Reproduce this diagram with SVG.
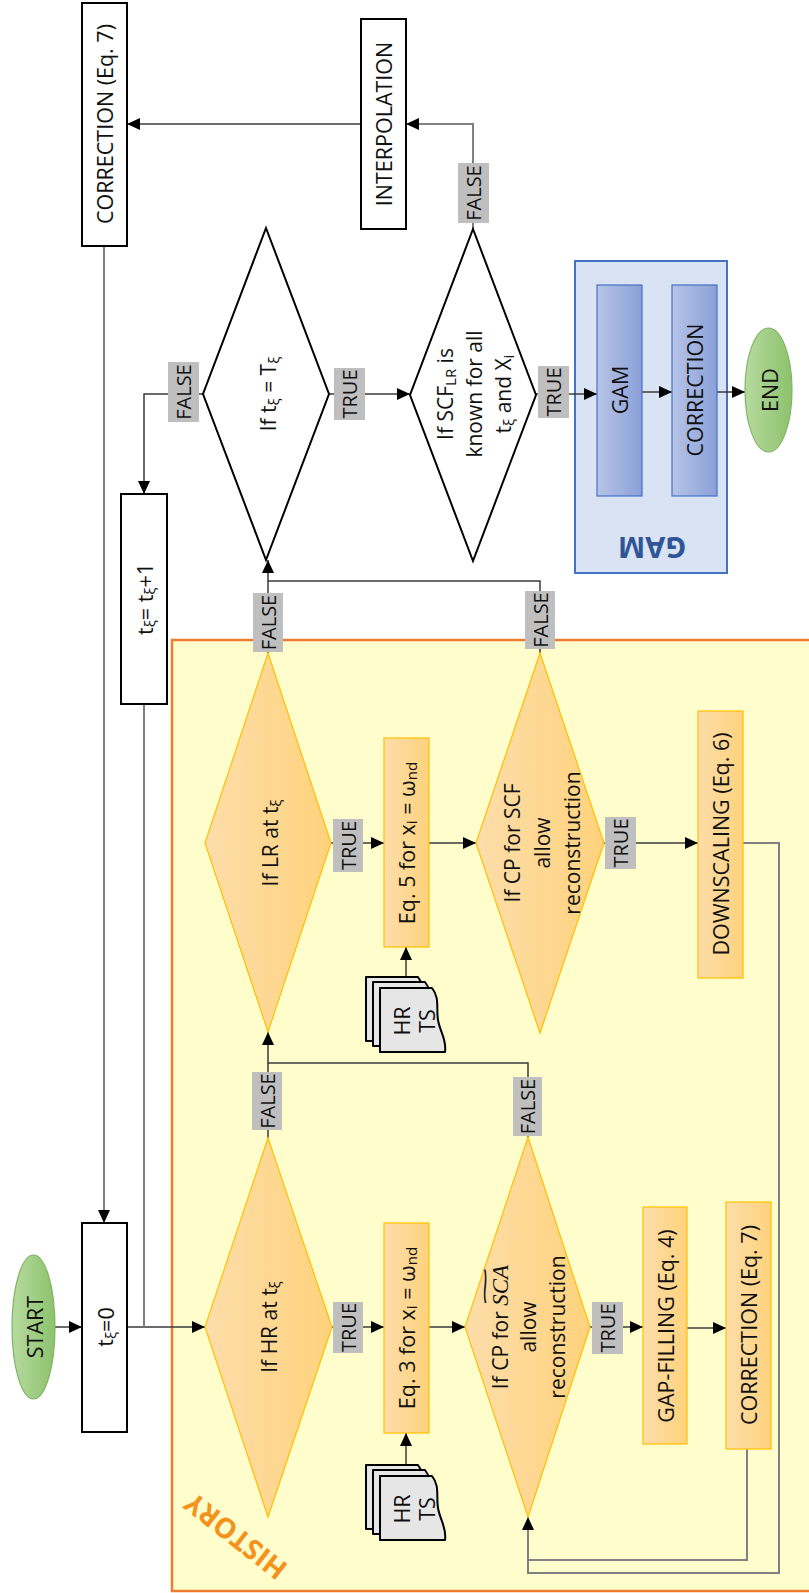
<svg xmlns="http://www.w3.org/2000/svg" width="809" height="1593" viewBox="0 0 809 1593">
  <defs>
    <linearGradient id="gOrange" x1="0" y1="0" x2="1" y2="0">
      <stop offset="0" stop-color="#FCDDAA"/>
      <stop offset="1" stop-color="#FFD27C"/>
    </linearGradient>
    <linearGradient id="gBlue" x1="0" y1="0" x2="1" y2="0">
      <stop offset="0" stop-color="#B7C4E7"/>
      <stop offset="1" stop-color="#8AA0D8"/>
    </linearGradient>
    <linearGradient id="gGreen" x1="0" y1="0" x2="1" y2="0">
      <stop offset="0" stop-color="#B6DA9F"/>
      <stop offset="1" stop-color="#8CC26C"/>
    </linearGradient>
    <marker id="ah" viewBox="0 0 13 12" refX="13" refY="6" markerWidth="13" markerHeight="12" orient="auto" markerUnits="userSpaceOnUse">
      <path d="M0,0 L13,6 L0,12 z" fill="#000"/>
    </marker>
    <!-- one sheet of the stacked-document symbol, wavy edge on the right -->
    <path id="doc" d="M0,0 H52 C60,10 56,20 58,32 C60,44 67,52 65,64 H0 Z"/>
  </defs>
  <style>
    .t { font-family: "Open Sans", "Liberation Sans", sans-serif; font-size: 21.5px; fill: #111; text-anchor: middle; dominant-baseline: central; }
    .td { font-family: "Open Sans", "Liberation Sans", sans-serif; font-size: 21px; fill: #111; text-anchor: middle; dominant-baseline: central; }
    .lt { font-family: "Open Sans", "Liberation Sans", sans-serif; font-size: 20px; fill: #111; text-anchor: middle; dominant-baseline: central; }
    .sub { font-size: 15px; }
    .box { fill: #fff; stroke: #000; stroke-width: 2; }
    .obox { fill: url(#gOrange); stroke: #FFC000; stroke-width: 1.2; }
    .bbox { fill: url(#gBlue); stroke: #4472C4; stroke-width: 1.2; }
    .dia { fill: #fff; stroke: #000; stroke-width: 2; }
    .odia { fill: url(#gOrange); stroke: #FFC000; stroke-width: 1.2; }
    .term { fill: url(#gGreen); stroke: #82B366; stroke-width: 1.2; }
    .lbl { fill: #BFBFBF; }
    .ln { fill: none; stroke: #3a3a3a; stroke-width: 1.5; }
    .lg { fill: none; stroke: #808080; stroke-width: 2; }
    .arr { marker-end: url(#ah); }
    .page { fill: #E6E6E6; stroke: #000; stroke-width: 2; stroke-linejoin: round; }
  </style>

  <!-- containers -->
  <g id="history">
    <rect x="172" y="640" width="660" height="951" fill="#FFFDCC" stroke="#ED7D31" stroke-width="2.5"/>
    <text transform="translate(235,1537) rotate(-142)" font-family="Open Sans, Liberation Sans, sans-serif" font-size="28" font-weight="bold" fill="#F5921B" text-anchor="middle" dominant-baseline="central">HISTORY</text>
  </g>
  <g id="gam-group">
    <rect x="575" y="261" width="152" height="312" fill="#DAE3F3" stroke="#4472C4" stroke-width="2"/>
    <text transform="translate(652,548) rotate(180)" font-family="Open Sans, Liberation Sans, sans-serif" font-size="29" font-weight="bold" fill="#2F5597" text-anchor="middle" dominant-baseline="central">GAM</text>
  </g>

  <!-- connectors -->
  <g id="connectors">
    <path class="ln arr" d="M55,1327 H82"/>
    <path class="ln arr" d="M127,1327 H205"/>
    <path class="lg" d="M144,704 V1327"/>
    <path class="lg arr" d="M104,246 V1223"/>
    <path class="ln arr" d="M361,124 H127"/>
    <path class="lg arr" d="M473,229 V124 H406"/>
    <path class="ln arr" d="M203,394 H144 V494"/>
    <path class="ln arr" d="M329,394 H410"/>
    <path class="ln arr" d="M536,394 H597"/>
    <path class="ln arr" d="M642,392 H672"/>
    <path class="ln arr" d="M717,392 H745"/>
    <path class="ln" d="M268,653 V581"/>
    <path class="ln arr" d="M540,653 V581 H268 V560"/>
    <path class="ln arr" d="M331,843 H384"/>
    <path class="ln arr" d="M406,977 V947"/>
    <path class="ln arr" d="M429,843 H476"/>
    <path class="ln arr" d="M604,843 H698"/>
    <path class="lg arr" d="M743,843 H779 V1573 H528 V1517"/>
    <path class="lg" d="M747,1449 V1560 H528"/>
    <path class="ln" d="M268,1138 V1063"/>
    <path class="ln arr" d="M528,1137 V1063 H268 V1032"/>
    <path class="ln arr" d="M332,1327 H384"/>
    <path class="ln arr" d="M406,1465 V1433"/>
    <path class="ln arr" d="M429,1327 H465"/>
    <path class="ln arr" d="M590,1327 H643"/>
    <path class="ln arr" d="M687,1328 H726"/>
  </g>

  <!-- connector labels -->
  <g id="labels">
    <rect class="lbl" x="168" y="362" width="31" height="60"/>
    <text class="lt" transform="translate(183.5,392) rotate(-90)">FALSE</text>
    <rect class="lbl" x="334" y="368" width="31" height="52"/>
    <text class="lt" transform="translate(349.5,394) rotate(-90)">TRUE</text>
    <rect class="lbl" x="458" y="163" width="31" height="60"/>
    <text class="lt" transform="translate(473.5,193) rotate(-90)">FALSE</text>
    <rect class="lbl" x="538" y="366" width="31" height="52"/>
    <text class="lt" transform="translate(553.5,392) rotate(-90)">TRUE</text>
    <rect class="lbl" x="253" y="593" width="30" height="59"/>
    <text class="lt" transform="translate(268,622.5) rotate(-90)">FALSE</text>
    <rect class="lbl" x="525" y="591" width="30" height="58"/>
    <text class="lt" transform="translate(540,620) rotate(-90)">FALSE</text>
    <rect class="lbl" x="333" y="819" width="30" height="53"/>
    <text class="lt" transform="translate(348,845.5) rotate(-90)">TRUE</text>
    <rect class="lbl" x="605" y="817" width="31" height="52"/>
    <text class="lt" transform="translate(620.5,843) rotate(-90)">TRUE</text>
    <rect class="lbl" x="252" y="1072" width="30" height="58"/>
    <text class="lt" transform="translate(267,1101) rotate(-90)">FALSE</text>
    <rect class="lbl" x="513" y="1077" width="29" height="59"/>
    <text class="lt" transform="translate(527.5,1106.5) rotate(-90)">FALSE</text>
    <rect class="lbl" x="333" y="1302" width="30" height="51"/>
    <text class="lt" transform="translate(348,1327.5) rotate(-90)">TRUE</text>
    <rect class="lbl" x="592" y="1302" width="31" height="52"/>
    <text class="lt" transform="translate(607.5,1328) rotate(-90)">TRUE</text>
  </g>

  <!-- nodes -->
  <g id="start">
    <ellipse class="term" cx="33.5" cy="1327" rx="21.5" ry="72"/>
    <text class="t" transform="translate(34,1327) rotate(-90)">START</text>
  </g>
  <g id="init">
    <rect class="box" x="82" y="1223" width="45" height="209"/>
    <text class="t" transform="translate(104.5,1327) rotate(-90)">t<tspan class="sub" dy="5">ξ</tspan><tspan dy="-5">=0</tspan></text>
  </g>
  <g id="correction-top">
    <rect class="box" x="82" y="3" width="45" height="243"/>
    <text class="t" transform="translate(104.5,124) rotate(-90)">CORRECTION (Eq. 7)</text>
  </g>
  <g id="interpolation">
    <rect class="box" x="361" y="19" width="45" height="210"/>
    <text class="t" transform="translate(383.5,124) rotate(-90)">INTERPOLATION</text>
  </g>
  <g id="increment">
    <rect class="box" x="121" y="494" width="46" height="210"/>
    <text class="t" transform="translate(144,599) rotate(-90)">t<tspan class="sub" dy="5">ξ</tspan><tspan dy="-5">= t</tspan><tspan class="sub" dy="5">ξ</tspan><tspan dy="-5">+1</tspan></text>
  </g>
  <g id="if-end">
    <polygon class="dia" points="266,228 329,394 266,560 203,394"/>
    <text class="td" transform="translate(268,394) rotate(-90)">If t<tspan class="sub" dy="5">ξ</tspan><tspan dy="-5"> = T</tspan><tspan class="sub" dy="5">ξ</tspan></text>
  </g>
  <g id="if-scf-known">
    <polygon class="dia" points="473,229 536,395 473,561 410,395"/>
    <g transform="translate(474,394) rotate(-90)">
      <text class="td" y="-29">If SCF<tspan class="sub" dy="5">LR</tspan><tspan dy="-5"> is</tspan></text>
      <text class="td" y="0">known for all</text>
      <text class="td" y="29">t<tspan class="sub" dy="5">ξ</tspan><tspan dy="-5"> and X</tspan><tspan class="sub" dy="5">i</tspan></text>
    </g>
  </g>
  <g id="gam">
    <rect class="bbox" x="597" y="285" width="45" height="211"/>
    <text class="t" transform="translate(619.5,390) rotate(-90)">GAM</text>
  </g>
  <g id="gam-correction">
    <rect class="bbox" x="672" y="285" width="45" height="211"/>
    <text class="t" transform="translate(694.5,390) rotate(-90)">CORRECTION</text>
  </g>
  <g id="end">
    <ellipse class="term" cx="768.5" cy="390" rx="23.5" ry="62"/>
    <text class="t" transform="translate(769,390) rotate(-90)">END</text>
  </g>

  <g id="if-lr">
    <polygon class="odia" points="268,653 331,843 268,1032 205,843"/>
    <text class="td" transform="translate(270,843) rotate(-90)">If LR at t<tspan class="sub" dy="5">ξ</tspan></text>
  </g>
  <g id="hr-ts-lr">
    <use href="#doc" class="page" transform="translate(366,977)"/>
    <use href="#doc" class="page" transform="translate(373,982)"/>
    <use href="#doc" class="page" transform="translate(380,988)"/>
    <text class="t" transform="translate(401,1021) rotate(-90)">HR</text>
    <text class="t" transform="translate(426,1021) rotate(-90)">TS</text>
  </g>
  <g id="eq5">
    <rect class="obox" x="384" y="738" width="45" height="209"/>
    <text class="t" transform="translate(406,843) rotate(-90)">Eq. 5 for x<tspan class="sub" dy="5">i</tspan><tspan dy="-5"> = ω</tspan><tspan class="sub" dy="5">nd</tspan></text>
  </g>
  <g id="if-cp-scf">
    <polygon class="odia" points="540,653 604,843 540,1033 476,843"/>
    <g transform="translate(542,843) rotate(-90)">
      <text class="td" y="-30">If CP for SCF</text>
      <text class="td" y="0">allow</text>
      <text class="td" y="30">reconstruction</text>
    </g>
  </g>
  <g id="downscaling">
    <rect class="obox" x="698" y="711" width="45" height="267"/>
    <text class="t" transform="translate(720.5,844) rotate(-90)">DOWNSCALING (Eq. 6)</text>
  </g>

  <g id="if-hr">
    <polygon class="odia" points="268,1138 332,1327 268,1517 205,1327"/>
    <text class="td" transform="translate(269,1327) rotate(-90)">If HR at t<tspan class="sub" dy="5">ξ</tspan></text>
  </g>
  <g id="hr-ts-hr">
    <use href="#doc" class="page" transform="translate(366,1465)"/>
    <use href="#doc" class="page" transform="translate(373,1470)"/>
    <use href="#doc" class="page" transform="translate(380,1476)"/>
    <text class="t" transform="translate(401,1509) rotate(-90)">HR</text>
    <text class="t" transform="translate(426,1509) rotate(-90)">TS</text>
  </g>
  <g id="eq3">
    <rect class="obox" x="384" y="1223" width="45" height="210"/>
    <text class="t" transform="translate(406,1328) rotate(-90)">Eq. 3 for x<tspan class="sub" dy="5">i</tspan><tspan dy="-5"> = ω</tspan><tspan class="sub" dy="5">nd</tspan></text>
  </g>
  <g id="if-cp-sca">
    <polygon class="odia" points="528,1137 590,1327 528,1517 465,1327"/>
    <g transform="translate(528,1327) rotate(-90)">
      <text class="td" y="-28">If CP for <tspan font-family="Liberation Serif, serif" font-style="italic" font-size="23">SCA</tspan></text>
      <text class="td" transform="translate(41,-43) scale(3.4,1)">~</text>
      <text class="td" y="0">allow</text>
      <text class="td" y="29">reconstruction</text>
    </g>
  </g>
  <g id="gap-filling">
    <rect class="obox" x="643" y="1207" width="44" height="237"/>
    <text class="t" transform="translate(665,1326) rotate(-90)">GAP-FILLING (Eq. 4)</text>
  </g>
  <g id="correction-history">
    <rect class="obox" x="726" y="1202" width="45" height="247"/>
    <text class="t" transform="translate(748.5,1325) rotate(-90)">CORRECTION (Eq. 7)</text>
  </g>
</svg>
